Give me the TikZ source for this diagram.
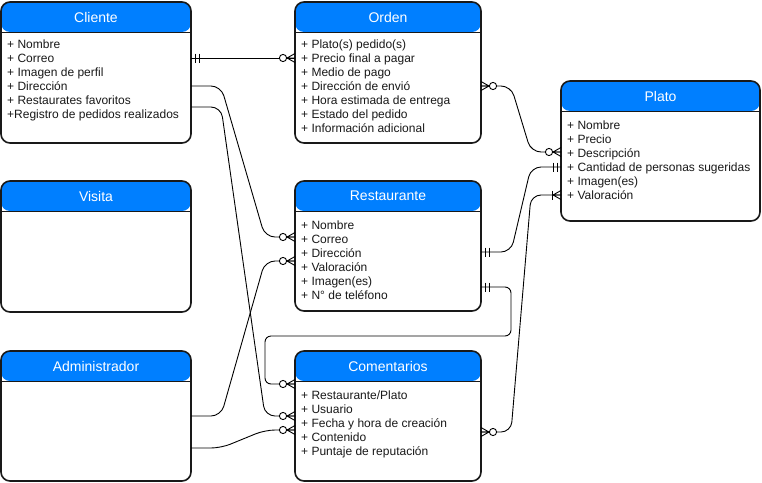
\documentclass[tikz,border=0pt]{standalone}
\usepackage{fontspec}
\setmainfont{Liberation Sans}
\usetikzlibrary{calc}
\definecolor{hdr}{RGB}{0,127,255}
\definecolor{ink}{RGB}{25,25,25}
\tikzset{
  entity/.style={draw=ink, line width=1.6pt, fill=white, rounded corners=9pt,
    inner sep=0pt, outer sep=0pt, anchor=north west,
    path picture={
      \fill[hdr] (path picture bounding box.north west) rectangle ([yshift=-30pt]path picture bounding box.north east);
      \draw[ink, line width=0.9pt] ([yshift=-30pt]path picture bounding box.north west) -- ([yshift=-30pt]path picture bounding box.north east);
    }},
  ttl/.style={text=white, font=\fontsize{14}{16}\selectfont, inner sep=0pt},
  row/.style={anchor=base west, inner sep=0pt, text=ink, font=\fontsize{12}{14}\selectfont},
  conn/.style={draw=black, line width=0.9pt, rounded corners=10pt},
  ermark/.style={draw=black, line width=0.9pt},
  zmany/.pic={
    \draw[ermark] (0,-4.5) -- (-8,0) -- (0,4.5) (0,0) -- (-8,0);
    \draw[ermark, fill=white] (-12,0) circle (3.6);
  },
  mone/.pic={
    \draw[ermark] (-4,-4.5) -- (-4,4.5) (-8,-4.5) -- (-8,4.5);
  },
  onemany/.pic={
    \draw[ermark] (0,-4.5) -- (-8,0) -- (0,4.5) (0,0) -- (-8,0);
    \draw[ermark] (-9,-4.5) -- (-9,4.5);
  }
}
\begin{document}
\begin{tikzpicture}[x=1pt,y=-1pt]
\fill[white] (0,0) rectangle (762,482);
\useasboundingbox (0,0) rectangle (762,482);

% entities
\node[entity, minimum width=190pt, minimum height=141pt] (cli) at (1,2) {};
\node[ttl] (cli-t) at ($(cli.north)+(0,15)$) {Cliente};
\foreach \t [count=\i] in {{+ Nombre},{+ Correo},{+ Imagen de perfil},{+ Dirección},{+ Restaurates favoritos},{+Registro de pedidos realizados}}
  \node[row] (cli-r\i) at (7,{48.3+14*(\i-1)}) {\t};

\node[entity, minimum width=186pt, minimum height=141pt] (ord) at (295,2) {};
\node[ttl] (ord-t) at ($(ord.north)+(0,15)$) {Orden};
\foreach \t [count=\i] in {{+ Plato(s) pedido(s)},{+ Precio final a pagar},{+ Medio de pago},{+ Dirección de envió},{+ Hora estimada de entrega},{+ Estado del pedido},{+ Información adicional}}
  \node[row] (ord-r\i) at (301,{48.3+14*(\i-1)}) {\t};

\node[entity, minimum width=199pt, minimum height=140pt] (pla) at (561,81) {};
\node[ttl] (pla-t) at ($(pla.north)+(0,15)$) {Plato};
\foreach \t [count=\i] in {{+ Nombre},{+ Precio},{+ Descripción},{+ Cantidad de personas sugeridas},{+ Imagen(es)},{+ Valoración}}
  \node[row] (pla-r\i) at (567,{129.3+14*(\i-1)}) {\t};

\node[entity, minimum width=190pt, minimum height=131pt] (vis) at (1,181) {};
\node[ttl] (vis-t) at ($(vis.north)+(0,15)$) {Visita};

\node[entity, minimum width=186pt, minimum height=130pt] (res) at (295,181) {};
\node[ttl] (res-t) at ($(res.north)+(0,15)$) {Restaurante};
\foreach \t [count=\i] in {{+ Nombre},{+ Correo},{+ Dirección},{+ Valoración},{+ Imagen(es)},{+ N° de teléfono}}
  \node[row] (res-r\i) at (301,{229.3+14*(\i-1)}) {\t};

\node[entity, minimum width=190pt, minimum height=130pt] (adm) at (1,351) {};
\node[ttl] (adm-t) at ($(adm.north)+(0,15)$) {Administrador};

\node[entity, minimum width=186pt, minimum height=130pt] (com) at (295,351) {};
\node[ttl] (com-t) at ($(com.north)+(0,15)$) {Comentarios};
\foreach \t [count=\i] in {{+ Restaurante/Plato},{+ Usuario},{+ Fecha y hora de creación},{+ Contenido},{+ Puntaje de reputación}}
  \node[row] (com-r\i) at (301,{399.3+14*(\i-1)}) {\t};

% connectors
\draw[conn] (cli.east |- 0,58) -- (ord.west |- 0,58);
\draw[conn] (cli.east |- 0,86) -- (221,86) -- (265,237) -- (res.west |- 0,237);
\draw[conn] (cli.east |- 0,107) -- (221,107) -- (265,416) -- (com.west |- 0,416);
\draw[conn] (adm.east |- 0,416) -- (221,416) -- (265,261) -- (res.west |- 0,261);
\draw[conn] (adm.east |- 0,448) -- (221,448) -- (265,430) -- (com.west |- 0,430);
\draw[conn] (ord.east |- 0,86) -- (511,86) -- (531,152) -- (pla.west |- 0,152);
\draw[conn] (res.east |- 0,252) -- (511,252) -- (531,167) -- (pla.west |- 0,167);
\draw[conn] (com.east |- 0,432) -- (511,432) -- (531,195) -- (pla.west |- 0,195);
\draw[conn, rounded corners=6pt] (res.east |- 0,287) -- (511,287) -- (511,336) -- (265,336) -- (265,384) -- (com.west |- 0,384);

% end markers
\pic[xscale=-1] at (cli.east |- 0,58) {mone};
\pic at (ord.west |- 0,58) {zmany};
\pic at (res.west |- 0,237) {zmany};
\pic at (com.west |- 0,416) {zmany};
\pic at (res.west |- 0,261) {zmany};
\pic at (com.west |- 0,430) {zmany};
\pic[xscale=-1] at (ord.east |- 0,86) {zmany};
\pic at (pla.west |- 0,152) {zmany};
\pic[xscale=-1] at (res.east |- 0,252) {mone};
\pic at (pla.west |- 0,167) {mone};
\pic[xscale=-1] at (com.east |- 0,432) {zmany};
\pic at (pla.west |- 0,195) {onemany};
\pic[xscale=-1] at (res.east |- 0,287) {mone};
\pic at (com.west |- 0,384) {zmany};
\end{tikzpicture}
\end{document}
